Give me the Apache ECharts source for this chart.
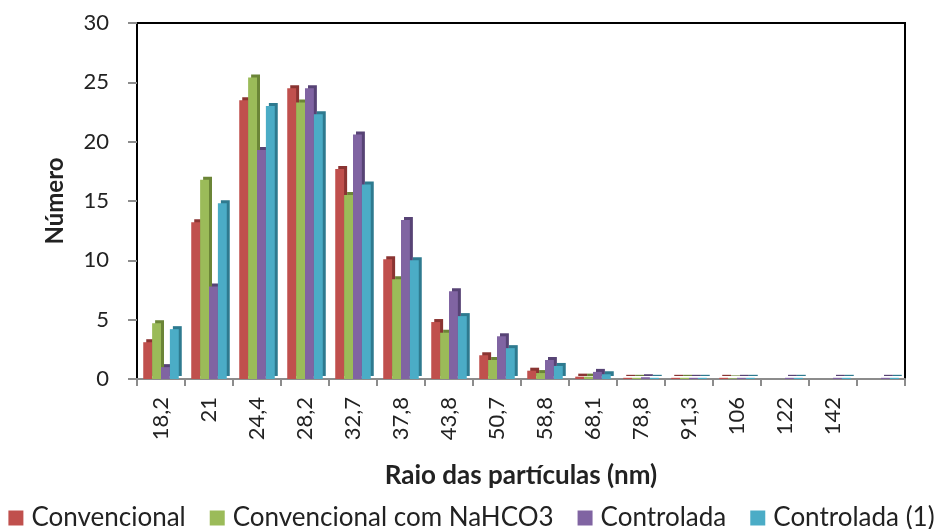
<!DOCTYPE html>
<html>
<head>
<meta charset="utf-8">
<script src="https://cdn.jsdelivr.net/npm/echarts@6/dist/echarts.min.js"></script>
<style>
  html, body { margin: 0; padding: 0; background: #fff; }
  #chart { width: 943px; height: 529px; }
</style>
</head>
<body>
<div id="chart"></div>
<script>
// Particle radius classes (nm); the last class carries no label
const categories = ['18,2', '21', '24,4', '28,2', '32,7', '37,8', '43,8', '50,7', '58,8', '68,1', '78,8', '91,3', '106', '122', '142', ''];

// Counts per class for each synthesis route
const convencional       = [3.1, 13.2, 23.5, 24.5, 17.7, 10.1, 4.8, 2.0, 0.7, 0.2, 0.1, 0.1, 0.1, 0, 0, 0];
const convencionalNaHCO3 = [4.7, 16.8, 25.4, 23.3, 15.5, 8.4, 3.9, 1.6, 0.5, 0.2, 0.1, 0.1, 0.05, 0, 0, 0];
const controlada         = [1.0, 7.8, 19.3, 24.5, 20.6, 13.4, 7.4, 3.6, 1.6, 0.6, 0.15, 0.1, 0.1, 0.1, 0.1, 0.1];
const controlada1        = [4.2, 14.8, 23.0, 22.3, 16.4, 10.0, 5.3, 2.6, 1.1, 0.4, 0.1, 0.1, 0.1, 0.1, 0.1, 0.1];

const yTicks = { min: 0, max: 30, interval: 5 };

const seriesDefs = [
  { name: 'Convencional', data: convencional, color: '#C0504D', shade: '#8A3432' },
  { name: 'Convencional com NaHCO3', data: convencionalNaHCO3, color: '#9BBB59', shade: '#6B8537' },
  { name: 'Controlada', data: controlada, color: '#8064A2', shade: '#574375' },
  { name: 'Controlada (1)', data: controlada1, color: '#4BACC6', shade: '#2E7A8F' }
];

const font = 'Lato, "Open Sans", sans-serif';

const chart = echarts.init(document.getElementById('chart'), null, { renderer: 'canvas' });

chart.setOption({
  animation: false,
  backgroundColor: '#fff',
  textStyle: { fontFamily: font },
  grid: {
    left: 137, right: 38, top: 23, bottom: 150,
    show: true, borderColor: '#000', borderWidth: 2, backgroundColor: 'transparent'
  },
  legend: {
    top: 500,
    left: 'center',
    itemWidth: 15, itemHeight: 15, itemGap: 24,
    icon: 'rect',
    textStyle: { fontSize: 26, color: '#222', fontFamily: font, padding: [0, 0, 0, 3] },
    data: seriesDefs.map(s => s.name)
  },
  xAxis: {
    type: 'category',
    data: categories,
    name: 'Raio das partículas (nm)',
    nameLocation: 'middle',
    nameGap: 84,
    nameTextStyle: { fontSize: 26, fontWeight: 'bold', color: '#222', fontFamily: font },
    axisLine: { lineStyle: { color: '#8c8c8c', width: 2 } },
    axisTick: { show: true, length: 7, lineStyle: { color: '#8c8c8c', width: 2 } },
    axisLabel: { rotate: 90, fontSize: 22, color: '#222', margin: 18, interval: 0 }
  },
  yAxis: {
    type: 'value',
    min: yTicks.min, max: yTicks.max, interval: yTicks.interval,
    name: 'Número',
    nameLocation: 'middle',
    nameGap: 70,
    nameTextStyle: { fontSize: 24, fontWeight: 'bold', color: '#222', fontFamily: font },
    axisLine: { show: true, lineStyle: { color: '#000', width: 2 } },
    axisTick: { show: true, length: 9, lineStyle: { color: '#8c8c8c', width: 2 } },
    axisLabel: { fontSize: 22, color: '#222', margin: 28 },
    splitLine: { show: false }
  },
  series: seriesDefs.map(s => ({
    name: s.name,
    type: 'bar',
    data: s.data,
    barGap: '0%',
    barCategoryGap: '26%',
    itemStyle: {
      color: s.color,
      shadowColor: s.shade,
      shadowBlur: 0,
      shadowOffsetX: 3,
      shadowOffsetY: -3
    },
    emphasis: { disabled: true }
  }))
});
</script>
</body>
</html>
